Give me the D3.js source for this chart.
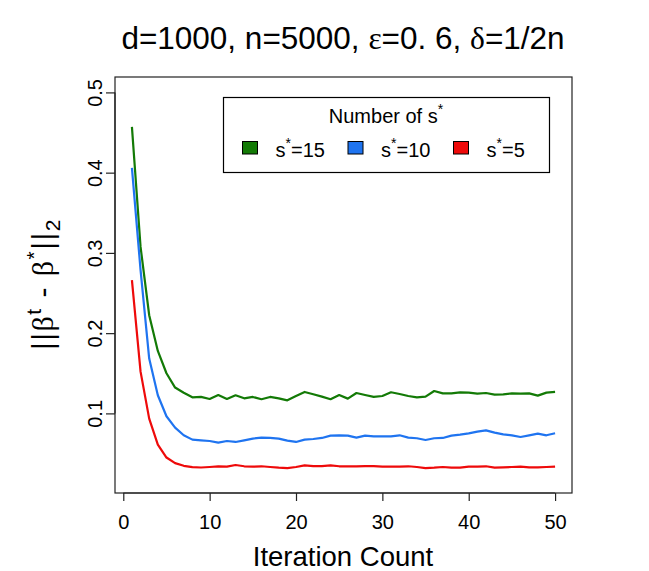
<!DOCTYPE html>
<html>
<head>
<meta charset="utf-8">
<script src="https://cdn.jsdelivr.net/npm/d3@7"></script>
<style>
  body { margin: 0; background: #fff; }
  svg { font-family: "Liberation Sans", Arial, Helvetica, sans-serif; }
  .griego { font-family: "Liberation Serif", "DejaVu Serif", serif; }
</style>
</head>
<body>
<svg id="lienzo" width="649" height="571"></svg>
<script>

// Datos
const iteraciones = [1, 2, 3, 4, 5, 6, 7, 8, 9, 10, 11, 12, 13, 14, 15, 16, 17, 18, 19, 20,
    21, 22, 23, 24, 25, 26, 27, 28, 29, 30, 31, 32, 33, 34, 35, 36, 37, 38, 39, 40,
    41, 42, 43, 44, 45, 46, 47, 48, 49, 50];

const errorS15 = [0.457, 0.3075, 0.2223, 0.1778, 0.150, 0.1322, 0.1257, 0.120, 0.1205, 0.118,
    0.1228, 0.118, 0.1226, 0.1188, 0.1205, 0.1176, 0.1205, 0.1188, 0.1163, 0.1217,
    0.1267, 0.1238, 0.1209, 0.1176, 0.1229, 0.1184, 0.1254, 0.1229, 0.1205, 0.1217,
    0.1263, 0.1242, 0.1217, 0.120, 0.1209, 0.1279, 0.125, 0.125, 0.1263, 0.1259,
    0.1246, 0.1254, 0.1234, 0.1238, 0.125, 0.1246, 0.125, 0.1221, 0.1259, 0.1267];

const errorS10 = [0.406, 0.2785, 0.1683, 0.1226, 0.0964, 0.0823, 0.0727, 0.0673, 0.0664, 0.0656,
    0.0636, 0.0656, 0.0644, 0.0664, 0.0686, 0.0698, 0.0694, 0.0686, 0.066, 0.0644,
    0.0673, 0.0681, 0.0694, 0.0723, 0.0727, 0.0723, 0.0698, 0.0723, 0.0714, 0.0714,
    0.0714, 0.0727, 0.0698, 0.069, 0.0669, 0.069, 0.0694, 0.0723, 0.0735, 0.0752,
    0.0773, 0.0789, 0.076, 0.0739, 0.0727, 0.0706, 0.0727, 0.0748, 0.0727, 0.0752];

const errorS5 = [0.266, 0.152, 0.0935, 0.061, 0.045, 0.038, 0.0347, 0.033, 0.0326, 0.0332,
    0.034, 0.0336, 0.0357, 0.0341, 0.0336, 0.0341, 0.0332, 0.0324, 0.0319, 0.0332,
    0.0353, 0.0344, 0.0344, 0.0353, 0.0341, 0.0341, 0.0341, 0.0344, 0.0344, 0.0336,
    0.0336, 0.0336, 0.0341, 0.0332, 0.0319, 0.0324, 0.0332, 0.0324, 0.0324, 0.0336,
    0.0336, 0.0341, 0.0324, 0.0328, 0.0332, 0.0336, 0.0328, 0.0328, 0.0332, 0.0336];

const nombresSeries = ['15', '10', '5'];
const coloresSeries = ['#137a06', '#1f74f0', '#ee0a0a'];
const ticksX = [0, 10, 20, 30, 40, 50];
const ticksY = [0.1, 0.2, 0.3, 0.4, 0.5];

const svg = d3.select('#lienzo');

const x = d3.scaleLinear().domain([-0.96, 51.96]).range([115, 572]);
const y = d3.scaleLinear().domain([0.0008, 0.5192]).range([493, 77]);

// Líneas de cada serie
const series = [errorS15, errorS10, errorS5];
const linea = d3.line()
    .x((d, i) => x(iteraciones[i]))
    .y(d => y(d));

svg.selectAll('path.serie')
    .data(series)
    .enter()
    .append('path')
    .attr('class', 'serie')
    .attr('d', linea)
    .attr('fill', 'none')
    .attr('stroke', (d, i) => coloresSeries[i])
    .attr('stroke-width', 2.2)
    .attr('stroke-linejoin', 'round');

// Caja del gráfico
svg.append('rect')
    .attr('x', 115).attr('y', 77)
    .attr('width', 457).attr('height', 416)
    .attr('fill', 'none')
    .attr('stroke', '#222')
    .attr('stroke-width', 1.2);

// Eje X
const ejeX = svg.append('g')
    .attr('transform', 'translate(0,493)')
    .call(d3.axisBottom(x).tickValues(ticksX).tickSize(8).tickPadding(6).tickFormat(d3.format('d')));
ejeX.select('.domain').attr('stroke', '#222').attr('stroke-width', 1.2)
    .attr('d', `M${x(0)},0H${x(50)}`);
ejeX.selectAll('.tick line').attr('stroke', '#222').attr('stroke-width', 1.2);
ejeX.selectAll('.tick text')
    .attr('font-size', '20px')
    .attr('font-family', '"Liberation Sans", Arial, sans-serif')
    .attr('fill', '#000')
    .attr('dy', null)
    .attr('y', 36);

// Eje Y (etiquetas giradas como en R)
const ejeY = svg.append('g')
    .attr('transform', 'translate(115,0)')
    .call(d3.axisLeft(y).tickValues(ticksY).tickSize(9).tickFormat(d3.format('.1f')));
ejeY.select('.domain').attr('stroke', '#222').attr('stroke-width', 1.2)
    .attr('d', `M0,${y(0.1)}V${y(0.5)}`);
ejeY.selectAll('.tick line').attr('stroke', '#222').attr('stroke-width', 1.2);
ejeY.selectAll('.tick text')
    .attr('font-size', '20px')
    .attr('font-family', '"Liberation Sans", Arial, sans-serif')
    .attr('fill', '#000')
    .attr('x', 0).attr('dy', null)
    .attr('text-anchor', 'middle')
    .attr('transform', 'translate(-13,0) rotate(-90)');

// Título
const titulo = svg.append('text')
    .attr('x', 343)
    .attr('y', 49)
    .attr('text-anchor', 'middle')
    .attr('font-size', '31.5px');
titulo.append('tspan').text('d=1000, n=5000, ');
titulo.append('tspan').attr('class', 'griego').text('ε');
titulo.append('tspan').text('=0. 6, ');
titulo.append('tspan').attr('class', 'griego').text('δ');
titulo.append('tspan').text('=1/2n');

// Etiqueta eje X
svg.append('text')
    .attr('x', 343)
    .attr('y', 566)
    .attr('text-anchor', 'middle')
    .attr('font-size', '27.5px')
    .text('Iteration Count');

// Etiqueta eje Y: ||β^t - β*||_2
const etiquetaY = svg.append('text')
    .attr('transform', 'translate(53,284) rotate(-90)')
    .attr('text-anchor', 'middle')
    .attr('font-size', '30px')
    .attr('letter-spacing', '1.5px')
    .style('white-space', 'pre');
etiquetaY.append('tspan').text('||');
etiquetaY.append('tspan').attr('class', 'griego').text('β');
etiquetaY.append('tspan').attr('font-size', '21px').attr('dy', -12).text('t');
etiquetaY.append('tspan').attr('dy', 12).text(' - ');
etiquetaY.append('tspan').attr('class', 'griego').text('β');
etiquetaY.append('tspan').attr('font-size', '21px').attr('dy', -12).text('*');
etiquetaY.append('tspan').attr('dy', 12).text('||');
etiquetaY.append('tspan').attr('font-size', '21px').attr('dy', 7).text('2');

// Leyenda
const leyenda = svg.append('g');
leyenda.append('rect')
    .attr('x', 223.5).attr('y', 97.5)
    .attr('width', 326).attr('height', 75)
    .attr('fill', '#fff')
    .attr('stroke', '#000')
    .attr('stroke-width', 1.2);

const tituloLeyenda = leyenda.append('text')
    .attr('x', 386)
    .attr('y', 123)
    .attr('text-anchor', 'middle')
    .attr('font-size', '20px');
tituloLeyenda.append('tspan').text('Number of s');
tituloLeyenda.append('tspan').attr('font-size', '14px').attr('dy', -9).text('*');

const posLeyenda = d3.scaleOrdinal().domain(nombresSeries).range([242.5, 348, 453.5]);

const items = leyenda.selectAll('g.item')
    .data(nombresSeries)
    .enter()
    .append('g')
    .attr('class', 'item')
    .attr('transform', d => `translate(${posLeyenda(d)},0)`);

items.append('rect')
    .attr('x', 0).attr('y', 141.5)
    .attr('width', 15).attr('height', 12.5)
    .attr('fill', (d, i) => coloresSeries[i])
    .attr('stroke', '#000')
    .attr('stroke-width', 1);

const textoItem = items.append('text')
    .attr('x', 33)
    .attr('y', 157)
    .attr('font-size', '20px');
textoItem.append('tspan').text('s');
textoItem.append('tspan').attr('font-size', '14px').attr('dy', -9).text('*');
textoItem.append('tspan').attr('dy', 9).text(d => '=' + d);

</script>
</body>
</html>
